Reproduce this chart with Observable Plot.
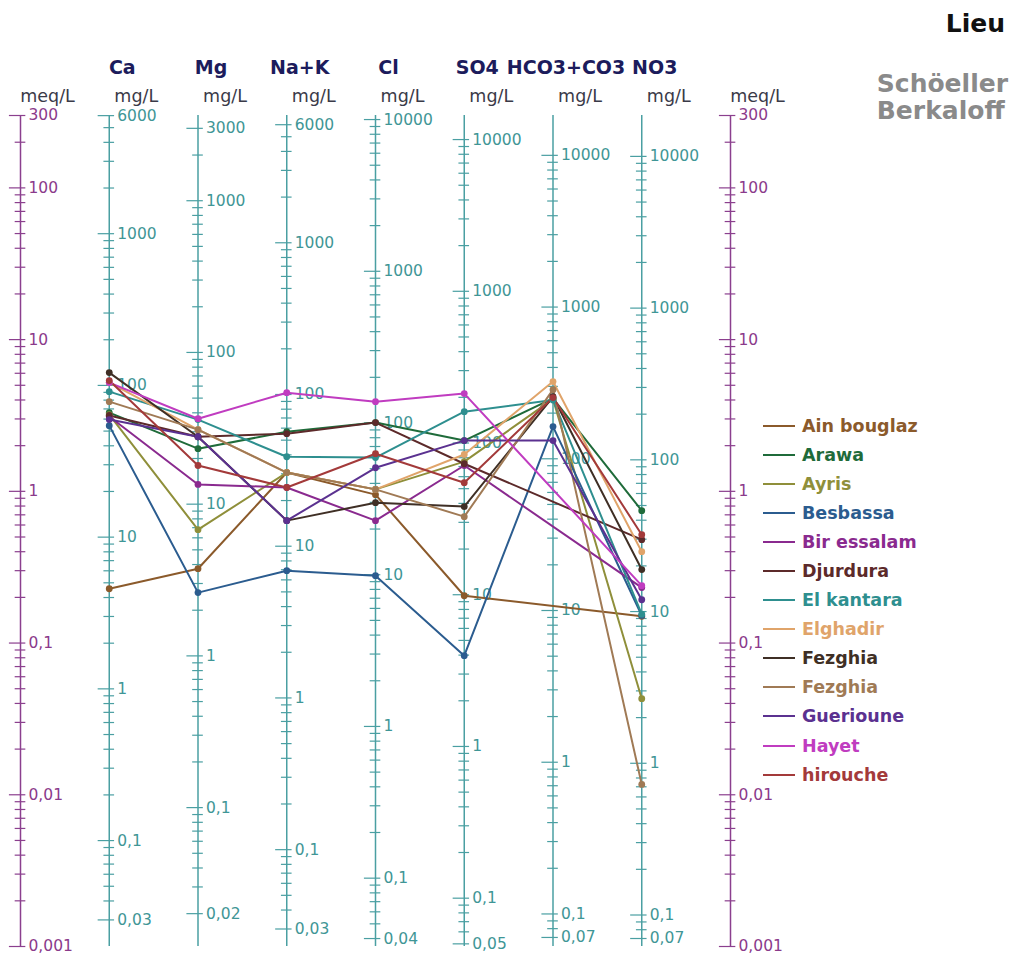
<!DOCTYPE html>
<html><head><meta charset="utf-8">
<script src="https://cdn.jsdelivr.net/npm/d3@7"></script>
<script src="https://cdn.jsdelivr.net/npm/@observablehq/plot@0.6"></script>
<style>
body{margin:0;background:#fff;}
#wrap{position:relative;width:1014px;height:956px;font-family:"DejaVu Sans",sans-serif;overflow:hidden;}
#chart{position:absolute;left:0;top:0;}
.lieu{position:absolute;right:9px;top:9px;font-weight:bold;font-size:25px;color:#111;}
.sb{position:absolute;right:6px;top:70px;font-weight:bold;font-size:25px;line-height:27px;color:#8a8a8a;}
#legend{position:absolute;left:763px;top:411px;}
.row{display:flex;align-items:center;height:29.1px;}
.sw{width:32px;height:2px;margin-right:7px;}
.lab{font-weight:bold;font-size:17.5px;white-space:nowrap;}
</style></head><body>
<div id="wrap"><div id="chart"></div><div class="lieu">Lieu</div><div class="sb">Schöeller<br>Berkaloff</div><div id="legend"></div></div>
<script>
// ---- data (meq/L) ----
const columns = ["Ca","Mg","Na+K","Cl","SO4","HCO3+CO3","NO3"];
const eqWeights = [20.04, 12.15, 23.0, 35.45, 48.03, 61.02, 62.0];
const mgLabels = [
  [6000,1000,100,10,1,0.1,0.03],
  [3000,1000,100,10,1,0.1,0.02],
  [6000,1000,100,10,1,0.1,0.03],
  [10000,1000,100,10,1,0.1,0.04],
  [10000,1000,100,10,1,0.1,0.05],
  [10000,1000,100,10,1,0.1,0.07],
  [10000,1000,100,10,1,0.1,0.07]
];
const meqLabels = [300,100,10,1,0.1,0.01,0.001];
const sites = ["Ain bouglaz","Arawa","Ayris","Besbassa","Bir essalam","Djurdura","El kantara","Elghadir","Fezghia","Fezghia","Guerioune","Hayet","hirouche"];
const siteColors = ["#8b5a2b","#1f6b3a","#8f8f3a","#2b5c8f","#8a2a8f","#5c2a2a","#2e8f8f","#e0a46a","#3f2f25","#a07a55","#5b3190","#c03cc0","#a33a3a"];
const ainBouglaz = [0.228, 0.309, 1.33, 0.951, 0.205, null, 0.150];
const arawa      = [3.30, 1.91, 2.47, 2.84, 2.16, 4.10, 0.746];
const ayris      = [3.20, 0.559, 1.33, 1.03, 1.57, 4.05, 0.043];
const besbassa   = [2.71, 0.215, 0.300, 0.278, 0.0826, 2.67, 0.152];
const birEssalam = [3.11, 1.11, 1.06, 0.641, 1.48, null, 0.232];
const djurdura   = [3.16, 2.29, 2.40, 2.84, 1.52, null, 0.480];
const elKantara  = [4.54, 2.97, 1.69, 1.67, 3.35, 4.00, 0.155];
const elghadir   = [5.21, 2.55, 1.33, 1.03, 1.75, 5.29, 0.400];
const fezghia1   = [6.06, 2.29, 0.641, 0.842, 0.793, 4.20, 0.305];
const fezghia2   = [3.90, 2.55, 1.33, 1.03, 0.681, 4.68, 0.0117];
const guerioune  = [2.97, 2.29, 0.641, 1.43, 2.16, 2.16, 0.193];
const hayet      = [5.21, 3.01, 4.47, 3.90, 4.41, null, 0.239];
const hirouche   = [5.37, 1.48, 1.06, 1.77, 1.14, 4.15, 0.518];
const siteValues = [ainBouglaz, arawa, ayris, besbassa, birEssalam, djurdura, elKantara, elghadir, fezghia1, fezghia2, guerioune, hayet, hirouche];

// ---- build tables ----
const yMin = 0.001, yMax = 300;
const nAx = columns.length + 2;
const axisKeys = d3.range(nAx);
const meqIdx = [0, nAx - 1];
const teal = "#4a9fa2", tealText = "#3f9696", purple = "#8b3f8e", purpleText = "#8b3a8b";
function logTicks(lo, hi) {
  const out = [];
  for (let n = -4; n <= 5; n++) for (let k = 1; k <= 9; k++) {
    const v = +(k * Math.pow(10, n)).toPrecision(3);
    if (v >= lo * 0.9999 && v <= hi * 1.0001) out.push(v);
  }
  return out;
}
const fmt = v => String(v).replace(".", ",");
const ticks = [], labels = [];
meqIdx.forEach(ax => {
  logTicks(yMin, yMax).forEach(v => ticks.push({x: ax, y: v, major: meqLabels.includes(v), c: purple}));
  meqLabels.forEach(v => labels.push({x: ax, y: v, text: fmt(v), c: purpleText}));
});
columns.forEach((col, i) => {
  const eq = eqWeights[i];
  logTicks(yMin * eq, yMax * eq).forEach(v => ticks.push({x: i + 1, y: v / eq, major: mgLabels[i].includes(v), c: teal}));
  mgLabels[i].forEach(v => labels.push({x: i + 1, y: v / eq, text: fmt(v), c: tealText}));
});
const headers = columns.map((c, i) => ({x: i + 1, text: c}));
const units = axisKeys.map(k => ({x: k, text: meqIdx.includes(k) ? "meq/L" : "mg/L"}));
const rows = [];
siteValues.forEach((vals, s) => vals.forEach((v, j) => { if (v != null) rows.push({s, x: j + 1, y: v, c: siteColors[s]}); }));

const chart = Plot.plot({
  width: 1014, height: 956,
  marginLeft: 20, marginRight: 284, marginTop: 115, marginBottom: 10,
  x: {type: "linear", domain: [0, nAx - 1], axis: null},
  y: {type: "log", domain: [yMin, yMax], axis: null},
  color: {type: "identity"},
  style: {fontFamily: "DejaVu Sans, sans-serif", background: "white", overflow: "visible"},
  marks: [
    Plot.ruleX(axisKeys, {x: d => d, y1: yMin, y2: yMax, stroke: d => meqIdx.includes(d) ? purple : teal, strokeWidth: 1.5}),
    Plot.ruleY(ticks, {y: "y", x1: d => d.x - (d.major ? 0.125 : 0.06), x2: d => d.x + 0.06, stroke: "c", strokeWidth: 1.2}),
    Plot.text(labels, {x: "x", y: "y", text: "text", dx: 8, textAnchor: "start", fill: "c", fontSize: 15.5}),
    Plot.text(headers, {x: "x", frameAnchor: "top", dy: -55, dx: 13, text: "text", fontWeight: "bold", fontSize: 19, fill: "#1c1c5c"}),
    Plot.text(units, {x: "x", frameAnchor: "top", dy: -26, dx: 27, text: "text", fontSize: 17.5, fill: "#3a3a48"}),
    Plot.line(rows, {x: "x", y: "y", z: "s", stroke: "c", strokeWidth: 2}),
    Plot.dot(rows, {x: "x", y: "y", r: 3.4, fill: "c"})
  ]
});
document.getElementById("chart").appendChild(chart);

const legend = document.getElementById("legend");
sites.forEach((name, i) => {
  const row = document.createElement("div");
  row.className = "row";
  row.innerHTML = `<div class="sw" style="background:${siteColors[i]}"></div><div class="lab" style="color:${siteColors[i]}">${name}</div>`;
  legend.appendChild(row);
});
</script>
</body></html>
